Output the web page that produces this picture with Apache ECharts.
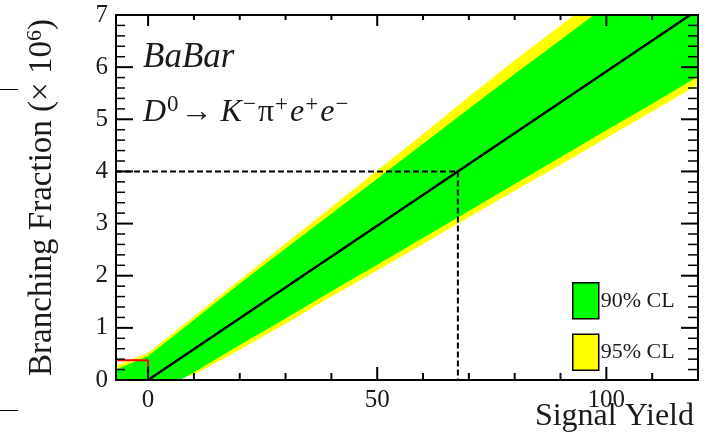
<!DOCTYPE html>
<html>
<head>
<meta charset="utf-8">
<script src="https://cdn.jsdelivr.net/npm/echarts@6/dist/echarts.min.js"></script>
<style>
  html, body { margin: 0; padding: 0; background: #fff; }
  #chart { width: 709px; height: 437px; }
</style>
</head>
<body>
<div id="chart"></div>
<script>
// Signal yield grid for the upper edges of the confidence bands
const yieldPts   = [-7, 0, 10, 20, 30, 40, 50, 60, 70, 80, 90, 100, 110, 120];
const cl95Upper  = [0.28, 0.52, 1.22, 1.92, 2.62, 3.32, 4.02, 4.72, 5.43, 6.13, 6.80, 7.48, 8.16, 8.84];
const cl90Upper  = [0.20, 0.46, 1.15, 1.85, 2.52, 3.19, 3.86, 4.53, 5.20, 5.87, 6.52, 7.18, 7.84, 8.50];
// Signal yield grid for the lower edges
const lowerYield = [-7, 5.5, 7, 10, 20, 30, 40, 50, 60, 70, 80, 90, 100, 110, 120];
const cl90Lower  = [0, 0, 0, 0.15, 0.67, 1.18, 1.70, 2.21, 2.73, 3.24, 3.76, 4.27, 4.79, 5.30, 5.82];
const cl95Lower  = [0, 0, 0.05, 0.10, 0.58, 1.08, 1.60, 2.10, 2.61, 3.12, 3.63, 4.13, 4.64, 5.15, 5.66];
// Central conversion yield -> branching fraction
const centerYield = [0, 118.3];
const centerBF    = [0, 7];
// Measured upper limit
const limitYield = 67.6;
const limitBF    = 4;
// Region below zero yield
const zeroBoxBF  = 0.38;
// Axis ranges and tick positions
const xRange = [-7, 120];
const yRange = [0, 7];
const xLabels = [0, 50, 100];
const xMajorTicks = [0, 50, 100];
const xMinorTicks = [10, 20, 30, 40, 60, 70, 80, 90, 110];
const yMajorTicks = [0, 1, 2, 3, 4, 5, 6, 7];
const yMinorTicks = [];
for (let k = 0; k < 7; k++) for (let m = 1; m < 5; m++) yMinorTicks.push(+(k + m * 0.2).toFixed(1));

const SERIF = '"Liberation Serif", "DejaVu Serif", serif';
const INK = '#1a1a1a';

function bandRenderer(xu, yu, xl, yl, color) {
  return function (params, api) {
    if (params.dataIndex !== 0) return null;
    const pts = [];
    for (let i = 0; i < xu.length; i++) pts.push(api.coord([xu[i], yu[i]]));
    for (let i = xl.length - 1; i >= 0; i--) pts.push(api.coord([xl[i], yl[i]]));
    return { type: 'polygon', shape: { points: pts }, style: { fill: color } };
  };
}

// Inward tick marks on all four sides of the frame, placed through the axis scales
function tickRenderer(params, api) {
  if (params.dataIndex !== 0) return null;
  const lo = api.coord([xRange[0], yRange[0]]);
  const hi = api.coord([xRange[1], yRange[1]]);
  const xL = lo[0], xR = hi[0], yB = lo[1], yT = hi[1];
  const kids = [];
  const seg = (x1, y1, x2, y2, w) => kids.push({
    type: 'line', shape: { x1: x1, y1: y1, x2: x2, y2: y2 }, style: { stroke: '#000', lineWidth: w }
  });
  xMajorTicks.forEach(v => { const px = api.coord([v, yRange[0]])[0]; seg(px, yB, px, yB - 13, 2); seg(px, yT, px, yT + 11, 2); });
  xMinorTicks.forEach(v => { const px = api.coord([v, yRange[0]])[0]; seg(px, yB, px, yB - 7, 2); seg(px, yT, px, yT + 5, 2); });
  yMajorTicks.forEach(v => { const py = api.coord([xRange[0], v])[1]; seg(xL, py, xL + 17, py, 2); seg(xR, py, xR - 17, py, 2); });
  yMinorTicks.forEach(v => { const py = api.coord([xRange[0], v])[1]; seg(xL, py, xL + 9, py, 1.5); seg(xR, py, xR - 10, py, 1.5); });
  return { type: 'group', children: kids };
}

const frame = () => ({ show: true, onZero: false, lineStyle: { color: '#000', width: 2 } });

const chart = echarts.init(document.getElementById('chart'));

chart.setOption({
  animation: false,
  grid: { left: 116, right: 11, top: 15, bottom: 57 },
  xAxis: [
    {
      type: 'value', position: 'bottom', min: xRange[0], max: xRange[1], z: 10,
      axisLine: frame(),
      axisTick: { show: false },
      axisLabel: { customValues: xLabels, fontSize: 25, fontFamily: SERIF, color: INK, margin: 8 },
      splitLine: { show: false }
    },
    {
      type: 'value', position: 'top', min: xRange[0], max: xRange[1], z: 10,
      axisLine: frame(),
      axisTick: { show: false }, axisLabel: { show: false }, splitLine: { show: false }
    }
  ],
  yAxis: [
    {
      type: 'value', position: 'left', min: yRange[0], max: yRange[1], interval: 1, z: 10,
      axisLine: frame(),
      axisTick: { show: false },
      axisLabel: { fontSize: 25, fontFamily: SERIF, color: INK, margin: 8 },
      splitLine: { show: false },
      name: 'Branching Fraction (× 10{s|6})', nameLocation: 'middle', nameGap: 56,
      nameTextStyle: {
        fontSize: 33, fontFamily: SERIF, color: INK, lineHeight: 36,
        rich: { s: { fontSize: 22, fontFamily: SERIF, color: INK, lineHeight: 22, verticalAlign: 'top' } }
      }
    },
    {
      type: 'value', position: 'right', min: yRange[0], max: yRange[1], interval: 1, z: 10,
      axisLine: frame(),
      axisTick: { show: false }, axisLabel: { show: false }, splitLine: { show: false }
    }
  ],
  legend: {
    orient: 'vertical', left: 567, top: 277, itemWidth: 26, itemHeight: 36, itemGap: 14,
    selectedMode: false,
    textStyle: { fontSize: 22, fontFamily: SERIF, color: INK, padding: [0, 0, 0, -3] },
    data: [
      { name: '90% CL', icon: 'rect', itemStyle: { color: '#00ff00', borderColor: '#000', borderWidth: 1.5 } },
      { name: '95% CL', icon: 'rect', itemStyle: { color: '#ffff00', borderColor: '#000', borderWidth: 1.5 } }
    ]
  },
  graphic: [
    { type: 'text', left: 143, top: 38, z: 20,
      style: { text: 'BaBar', font: 'italic 35px ' + SERIF, fill: INK, lineHeight: 40 } },
    { type: 'text', left: 143, top: 93, z: 20,
      style: {
        text: '{i|D}{s|0}{n|→ }{i|K}{s|−}{n|π}{s|+}{i|e}{s|+}{i|e}{s|−}',
        fill: INK,
        rich: {
          i: { font: 'italic 32px ' + SERIF, fill: INK, lineHeight: 40 },
          n: { font: '32px ' + SERIF, fill: INK, lineHeight: 40 },
          s: { font: '23px ' + SERIF, fill: INK, lineHeight: 25, verticalAlign: 'top', padding: [0, 2, 0, 1] }
        }
      } },
    { type: 'text', right: 15, top: 399, z: 20,
      style: { text: 'Signal Yield', font: '32px ' + SERIF, fill: INK, lineHeight: 36 } },
    { type: 'line', z: 20, shape: { x1: 0, y1: 89.5, x2: 18, y2: 89.5 }, style: { stroke: '#000', lineWidth: 1 } },
    { type: 'line', z: 20, shape: { x1: 0, y1: 410.5, x2: 18, y2: 410.5 }, style: { stroke: '#000', lineWidth: 1 } }
  ],
  series: [
    {
      name: '95% CL', type: 'custom', xAxisIndex: 0, yAxisIndex: 0, clip: true,
      itemStyle: { color: '#ffff00' },
      renderItem: bandRenderer(yieldPts, cl95Upper, lowerYield, cl95Lower, '#ffff00'),
      data: [[yieldPts[0], cl95Upper[0]]]
    },
    {
      name: '90% CL', type: 'custom', xAxisIndex: 0, yAxisIndex: 0, clip: true,
      itemStyle: { color: '#00ff00' },
      renderItem: bandRenderer(yieldPts, cl90Upper, lowerYield, cl90Lower, '#00ff00'),
      data: [[yieldPts[0], cl90Upper[0]]]
    },
    {
      name: 'central', type: 'line', xAxisIndex: 0, yAxisIndex: 0, symbol: 'none', clip: true,
      lineStyle: { color: '#000', width: 2.5 },
      data: centerYield.map((x, i) => [x, centerBF[i]])
    },
    {
      name: 'limit', type: 'line', xAxisIndex: 0, yAxisIndex: 0, symbol: 'none', clip: true,
      lineStyle: { color: '#000', width: 2, type: [6, 3] },
      data: [[xRange[0], limitBF], [limitYield, limitBF], [limitYield, yRange[0]]]
    },
    {
      name: 'zero', type: 'line', xAxisIndex: 0, yAxisIndex: 0, symbol: 'none', clip: true,
      lineStyle: { color: '#ff0000', width: 2 },
      data: [[xRange[0], zeroBoxBF], [0, zeroBoxBF], [0, yRange[0]]]
    },
    {
      name: 'ticks', type: 'custom', xAxisIndex: 0, yAxisIndex: 0, clip: false, z: 5,
      renderItem: tickRenderer,
      data: [[xRange[0], yRange[0]]]
    }
  ]
});
</script>
</body>
</html>
